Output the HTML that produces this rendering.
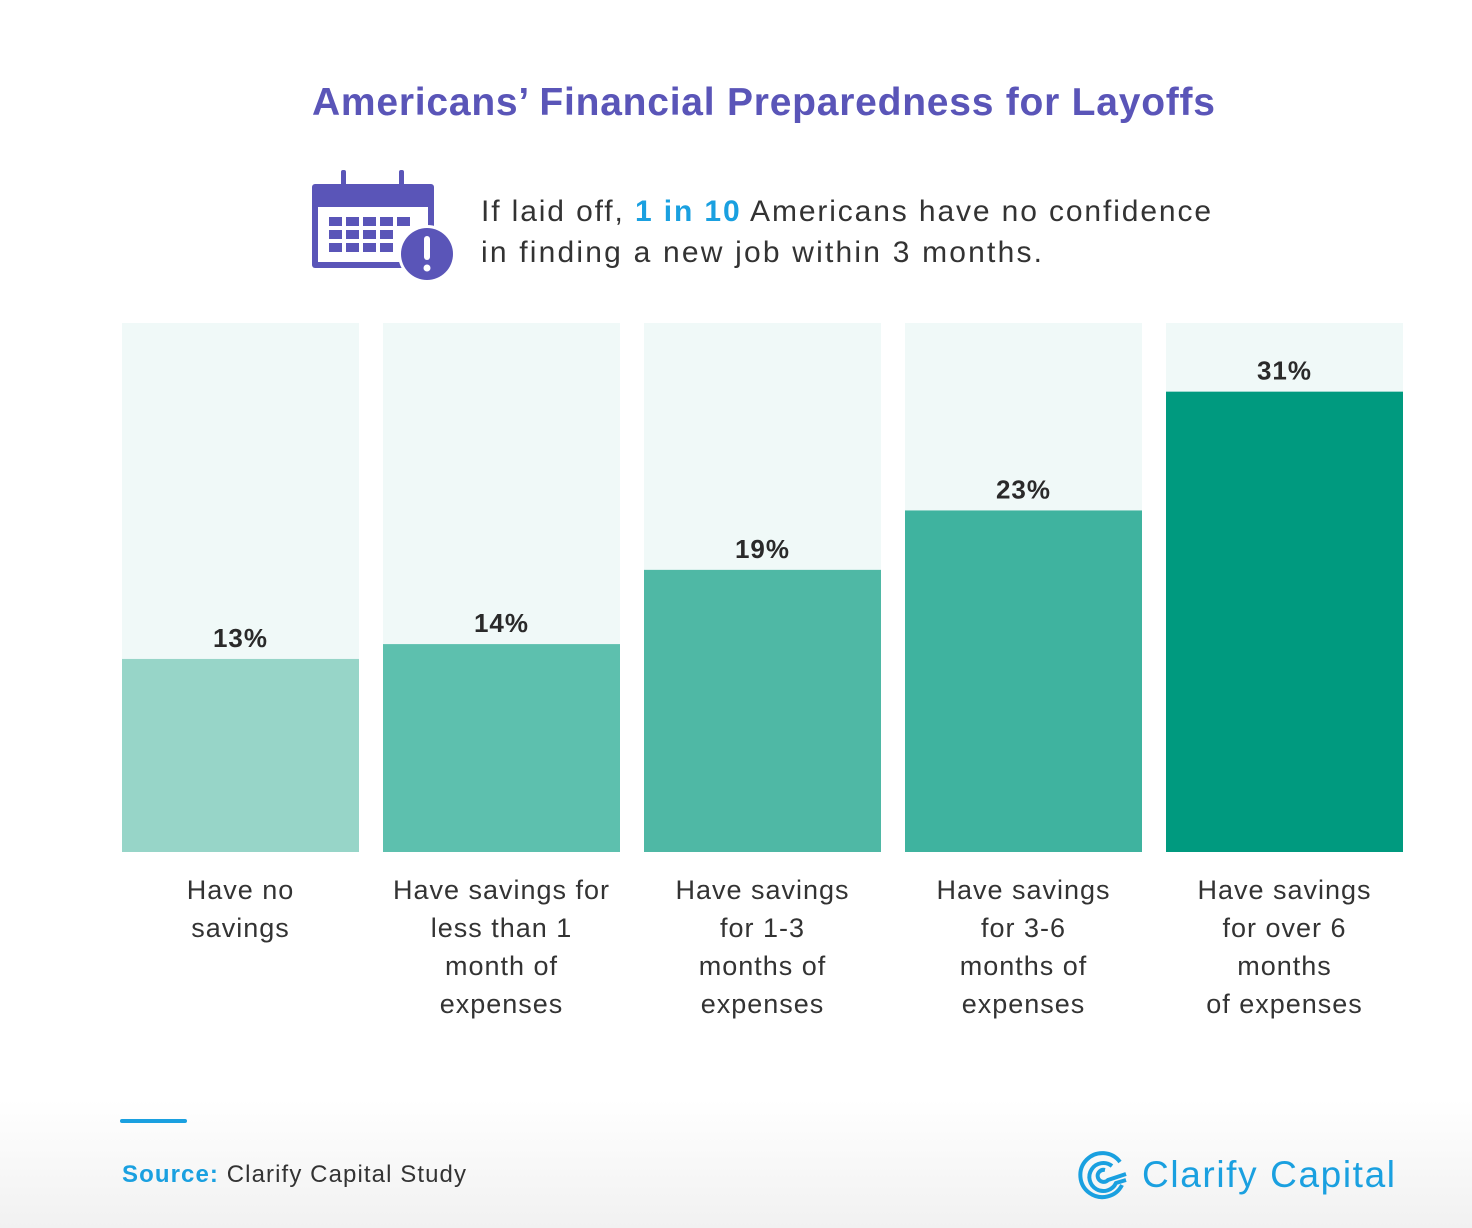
<!DOCTYPE html>
<html><head><meta charset="utf-8"><style>
body{margin:0;background:#fff;}
svg{display:block;font-family:"Liberation Sans",sans-serif;}
</style></head><body>
<svg id="chart" width="1472" height="1228" viewBox="0 0 1472 1228">
<defs><linearGradient id="fade" x1="0" y1="0" x2="0" y2="1"><stop offset="0" stop-color="#fff"/><stop offset="1" stop-color="#f1f1f1"/></linearGradient></defs>
<rect x="0" y="1100" width="1472" height="128" fill="url(#fade)"/>
<text x="312" y="115" textLength="903" lengthAdjust="spacing" font-size="39" font-weight="bold" fill="#5a55b8">Americans’ Financial Preparedness for Layoffs</text>
<g fill="#5a55b8">
<rect x="312" y="184" width="122" height="84" rx="3" fill="#5a55b8"/>
<rect x="318" y="207" width="110" height="55" fill="#fff"/>
<rect x="341" y="170" width="5" height="20" rx="2"/><rect x="399" y="170" width="5" height="20" rx="2"/>
<g id="grid"></g>
<circle cx="427" cy="254" r="29" fill="#fff"/><circle cx="427" cy="254" r="26"/>
<rect x="424" y="236" width="6" height="24" rx="3" fill="#fff"/><circle cx="427" cy="268" r="3.5" fill="#fff"/>
</g>
<text x="481" y="221" textLength="730" lengthAdjust="spacing" font-size="30" fill="#333">If laid off, <tspan fill="#1aa0e0" font-weight="bold">1 in 10</tspan> Americans have no confidence</text>
<text x="481" y="262" textLength="561" lengthAdjust="spacing" font-size="30" fill="#333">in finding a new job within 3 months.</text>
<g id="bars"></g>
<rect x="120" y="1119" width="67" height="4" rx="2" fill="#1aa0e0"/>
<text x="122" y="1182" textLength="344" lengthAdjust="spacing" font-size="24" fill="#333"><tspan fill="#1aa0e0" font-weight="bold">Source:</tspan> Clarify Capital Study</text>
<g fill="none" stroke="#1aa0e0" stroke-width="4">
<path d="M1120 1162 A22 22 0 1 0 1122 1185"/>
<path d="M1112 1166 A14 14 0 1 0 1116 1183 L1126 1180"/>
<path d="M1105 1170 A6 6 0 1 0 1108 1180 L1126 1174"/>
</g>
<text x="1142" y="1187" textLength="253" lengthAdjust="spacing" font-size="37" fill="#1aa0e0">Clarify Capital</text>
</svg>
<script>
const categories=[["Have no","savings"],["Have savings for","less than 1","month of","expenses"],["Have savings","for 1-3","months of","expenses"],["Have savings","for 3-6","months of","expenses"],["Have savings","for over 6","months","of expenses"]];
const values=[13,14,19,23,31];
const valueLabels=["13%","14%","19%","23%","31%"];
const colors=["#97d5c8","#5dc0ae","#4fb8a5","#3fb39f","#009a7f"];
(function(){
const NS="http://www.w3.org/2000/svg";
const y0=852,panelTop=323,pxPer=14.85,bx0=122,bw=237,step=261;
const y=v=>y0-v*pxPer;
const g=document.getElementById('bars');
function mk(t,a){const e=document.createElementNS(NS,t);for(const k in a)e.setAttribute(k,a[k]);return e;}
values.forEach((v,i)=>{
 const x=bx0+i*step;
 const bg=mk('rect',{x:x,y:panelTop,width:bw,height:y0-panelTop,fill:'#f0f9f8'});
 
 
 g.appendChild(bg);
 const r=mk('rect',{x:x,y:y(v),width:bw,height:y0-y(v),fill:colors[i]});
 
 
 g.appendChild(r);
 const t=mk('text',{x:x+bw/2,y:y(v)-12,'text-anchor':'middle','font-size':26,'font-weight':'bold',fill:'#2a2a2a','letter-spacing':1});
 t.textContent=valueLabels[i];
 
 
 g.appendChild(t);
 categories[i].forEach((line,j)=>{
  const c=mk('text',{x:x+bw/2,y:899+j*38,'text-anchor':'middle','font-size':27,fill:'#333','letter-spacing':1});
  c.textContent=line;
  
  
  g.appendChild(c);
 });
});
const grid=document.getElementById('grid');
for(let r=0;r<3;r++)for(let c=0;c<5;c++){
 if(r>0&&c==4)continue;
 const s=mk('rect',{x:329+c*17,y:217+r*13,width:13,height:9,fill:'#5a55b8'});
 
 
 grid.appendChild(s);
}
})();
</script>
</body></html>
